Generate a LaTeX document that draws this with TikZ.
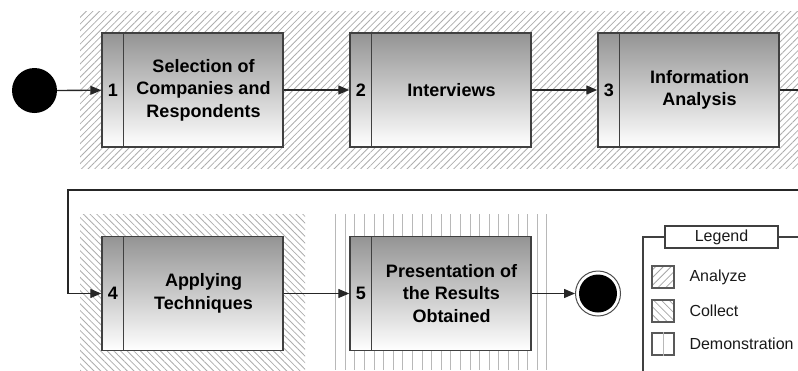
\documentclass[tikz,border=0pt]{standalone}
\usepackage{fontspec}
\setmainfont{Liberation Sans}
\usetikzlibrary{arrows.meta,patterns.meta,calc}
\pgfdeclareverticalshading{boxshade}{100bp}{color(0bp)=(white); color(25bp)=(white); color(75bp)=(black!42); color(100bp)=(black!42)}
\begin{document}
\begin{tikzpicture}[x=1pt,y=-1pt,
  proc/.style={draw=black!75,line width=1.4pt,shading=boxshade,minimum width=181pt,minimum height=114pt,inner sep=0pt},
  divider/.style={draw=black!75,line width=1.4pt},
  ptext/.style={font=\fontsize{18}{22.5}\selectfont\bfseries,align=center,text=black},
  flow/.style={draw=black!85,line width=1.3pt,-{Triangle[length=11pt,width=9pt]}},
  plain/.style={draw=black!85,line width=1.3pt},
  hatchA/.style={pattern={Lines[angle=45,distance=4.7pt,line width=0.8pt]},pattern color=black!32},
  hatchC/.style={pattern={Lines[angle=-45,distance=4.7pt,line width=0.8pt]},pattern color=black!32},
  vline/.style={draw=black!28,line width=1pt},
  legtext/.style={font=\fontsize{16}{19}\selectfont,anchor=west,text=black!90},
  legbox/.style={draw=black!65,line width=1.1pt,minimum size=22pt,inner sep=0pt},
  frame/.style={draw=black!75,line width=1.2pt}
]
\useasboundingbox (0,0) rectangle (798,370);

% background regions
\path[hatchA] (80,11) rectangle (798,168);
\path[hatchC] (80,214) rectangle (305,370);
\foreach \i in {0,...,22} \draw[vline] ({335.7+\i*9.6},214) -- ({335.7+\i*9.6},370);

% process boxes
\foreach \n/\x/\y in {1/192.5/90, 2/440.5/90, 3/688.5/90, 4/192.5/293.5, 5/440.5/293.5}{
  \node[proc] (b\n) at (\x,\y) {};
  \draw[divider] ([xshift=22pt]b\n.north west) -- ([xshift=22pt]b\n.south west);
  \node[ptext] (n\n) at ($(b\n.west)+(11.5,0)$) {\n};
}
\node[ptext] (t1) at ($(b1.center)+(11,0)$) {Selection of\\Companies and\\Respondents};
\node[ptext] (t2) at ($(b2.center)+(11,0)$) {Interviews};
\node[ptext] (t3) at ($(b3.center)+(11,0)$) {Information\\Analysis};
\node[ptext] (t4) at ($(b4.center)+(11,0)$) {Applying\\Techniques};
\node[ptext] (t5) at ($(b5.center)+(11,0)$) {Presentation of\\the Results\\Obtained};

% start / end
\node[circle,fill=black,minimum size=45pt,inner sep=0pt] (s) at (34.5,90.5) {};
\node[circle,draw=black!70,line width=1pt,fill=white,minimum size=45pt,inner sep=0pt] (e) at (598,293.5) {};
\node[circle,fill=black,minimum size=38pt,inner sep=0pt] (ei) at (e) {};

% connectors
\coordinate (r1) at (798,90);
\coordinate (r2) at (798,190);
\coordinate (k) at (68,190);
\draw[flow] (s) -- (b1);
\draw[flow] (b1) -- (b2);
\draw[flow] (b2) -- (b3);
\draw[plain] (b3.east) -- (r1);
\draw[flow] (r2) -- (k) |- (b4.west);
\draw[flow] (b4) -- (b5);
\draw[flow] (b5) -- (e);

% legend
\node[frame,fill=white,minimum width=113pt,minimum height=22pt,inner sep=0pt,font=\fontsize{16}{19}\selectfont,text=black!90] (lg) at (721.5,237) {Legend};
\coordinate (lf0) at (643,372);
\coordinate (lf1) at (798,237);
\draw[frame] (lf0) |- (lg.west);
\draw[frame] (lg.east) -- (lf1);
\node[legbox,pattern={Lines[angle=45,distance=5.5pt,line width=0.8pt]},pattern color=black!35] (la) at (663,277) {};
\node[legbox,pattern={Lines[angle=-45,distance=5.5pt,line width=0.8pt]},pattern color=black!35] (lc) at (663,311) {};
\node[legbox] (ld) at (663,344) {};
\draw[vline] (ld.north) -- (ld.south);
\node[legtext] (lta) at (686,277) {Analyze};
\node[legtext] (ltc) at (686,311) {Collect};
\node[legtext] (ltd) at (686,344) {Demonstration};
\end{tikzpicture}
\end{document}
